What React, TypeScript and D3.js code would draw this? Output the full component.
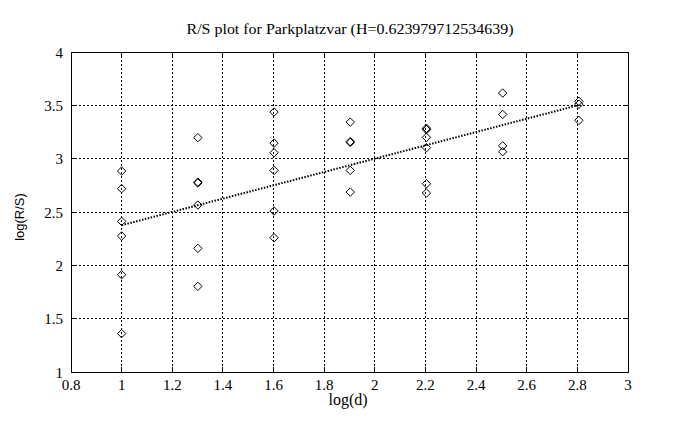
import React from "react";
import * as d3 from "d3";

const TITLE = "R/S plot for Parkplatzvar (H=0.623979712534639)";
const X_LABEL = "log(d)";
const Y_LABEL = "log(R/S)";

const xTicks = [0.8, 1, 1.2, 1.4, 1.6, 1.8, 2, 2.2, 2.4, 2.6, 2.8, 3];
const yTicks = [1, 1.5, 2, 2.5, 3, 3.5, 4];

const logD = [
  1, 1, 1, 1, 1, 1,
  1.301, 1.301, 1.301, 1.301, 1.301, 1.301,
  1.602, 1.602, 1.602, 1.602, 1.602, 1.602,
  1.903, 1.903, 1.903, 1.903, 1.903,
  2.204, 2.204, 2.204, 2.204, 2.204, 2.204,
  2.505, 2.505, 2.505, 2.505,
  2.806, 2.806, 2.806,
];
const logRS = [
  2.884, 2.719, 2.412, 2.275, 1.912, 1.36,
  3.197, 2.78, 2.772, 2.565, 2.159, 1.803,
  3.437, 3.146, 3.056, 2.89, 2.509, 2.259,
  3.343, 3.16, 3.152, 2.89, 2.687,
  3.285, 3.272, 3.2, 3.103, 2.765, 2.678,
  3.615, 3.415, 3.12, 3.065,
  3.537, 3.51, 3.359,
];

const H = 0.623979712534639;
const intercept = 1.752;
const fitRange = [1, 2.806];

export default function App() {
  const W = 678, Hh = 430;
  const left = 71, right = 628, top = 52, bottom = 372;
  const x = d3.scaleLinear().domain([0.8, 3]).range([left, right]);
  const y = d3.scaleLinear().domain([1, 4]).range([bottom, top]);
  const serif = "'Liberation Serif', 'Times New Roman', serif";
  const sans = "'Liberation Sans', Arial, sans-serif";
  const diamond = (cx: number, cy: number, r = 4.2) =>
    `M${cx},${cy - r}L${cx + r},${cy}L${cx},${cy + r}L${cx - r},${cy}Z`;
  const line = d3.line<number>().x((d) => x(d)).y((d) => y(intercept + H * d));

  return (
    <svg width={W} height={Hh} style={{ position: "absolute", left: 0, top: 0, background: "#fff" }}>
      <rect x={0} y={0} width={W} height={Hh} fill="#fff" />
      {xTicks.slice(1, -1).map((t) => (
        <line key={"gx" + t} x1={x(t)} x2={x(t)} y1={top} y2={bottom} stroke="#000" strokeWidth={1} strokeDasharray="2,2" shapeRendering="crispEdges" />
      ))}
      {yTicks.slice(1, -1).map((t) => (
        <line key={"gy" + t} x1={left} x2={right} y1={y(t)} y2={y(t)} stroke="#000" strokeWidth={1} strokeDasharray="2,2" shapeRendering="crispEdges" />
      ))}
      {xTicks.map((t) => (
        <g key={"tx" + t}>
          <line x1={x(t)} x2={x(t)} y1={bottom} y2={bottom - 5} stroke="#000" shapeRendering="crispEdges" />
          <line x1={x(t)} x2={x(t)} y1={top} y2={top + 5} stroke="#000" shapeRendering="crispEdges" />
          <text x={x(t)} y={390} textAnchor="middle" fontFamily={serif} fontSize={15}>{t}</text>
        </g>
      ))}
      {yTicks.map((t) => (
        <g key={"ty" + t}>
          <line x1={left} x2={left + 5} y1={y(t)} y2={y(t)} stroke="#000" shapeRendering="crispEdges" />
          <line x1={right} x2={right - 5} y1={y(t)} y2={y(t)} stroke="#000" shapeRendering="crispEdges" />
          <text x={63} y={y(t) + 1} dy="0.32em" textAnchor="end" fontFamily={serif} fontSize={15}>{t}</text>
        </g>
      ))}
      <rect x={left} y={top} width={right - left} height={bottom - top} fill="none" stroke="#000" strokeWidth={1} shapeRendering="crispEdges" />
      <path d={line(fitRange) || ""} fill="none" stroke="#000" strokeWidth={2} strokeDasharray="1.5,1.5" />
      {logD.map((d, i) => (
        <path key={"p" + i} d={diamond(x(d), y(logRS[i]))} fill="none" stroke="#000" strokeWidth={1} />
      ))}
      <text x={350} y={34} textAnchor="middle" fontFamily={serif} fontSize={15} textLength={327} lengthAdjust="spacingAndGlyphs">{TITLE}</text>
      <text x={348} y={405} textAnchor="middle" fontFamily={serif} fontSize={16}>{X_LABEL}</text>
      <text transform={`translate(24,217) rotate(-90)`} textAnchor="middle" fontFamily={sans} fontSize={13}>{Y_LABEL}</text>
    </svg>
  );
}
